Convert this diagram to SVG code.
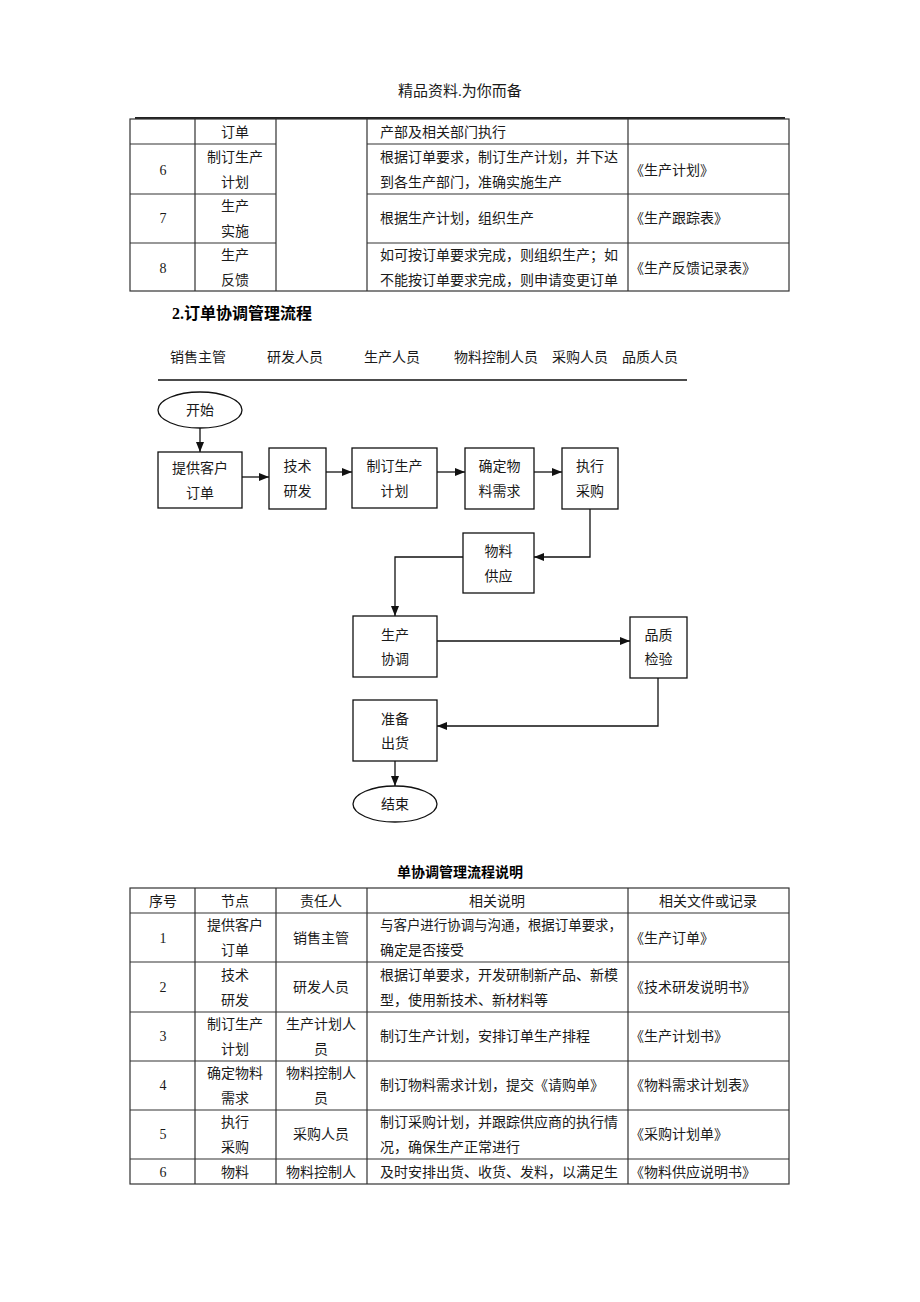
<svg xmlns="http://www.w3.org/2000/svg" width="920" height="1302" viewBox="0 0 920 1302">
<style>
text{font-family:"Liberation Serif","Noto Sans CJK SC",serif;font-size:14px;fill:#1a1a1a;dominant-baseline:central}
.c{text-anchor:middle}
.b{font-weight:bold;fill:#000}
.g{stroke:#333;stroke-width:1.2;fill:none}
.box{fill:#fff;stroke:#111;stroke-width:1.3}
.con{fill:none;stroke:#111;stroke-width:1.3;marker-end:url(#arr)}
</style>
<defs>
<marker id="arr" viewBox="0 0 10 10" refX="10" refY="5" markerWidth="10" markerHeight="10" markerUnits="userSpaceOnUse" orient="auto"><path d="M0,1 L10,5 L0,9 z" fill="#111"/></marker>
</defs>
<rect width="920" height="1302" fill="#fff"/>
<text class="c" x="460" y="91" style="font-size:15px">精品资料.为你而备</text>
<line x1="135" y1="118" x2="785" y2="118" stroke="#222" stroke-width="1.8"/>
<g id="table-top">
<rect class="g" x="130" y="119" width="659" height="172"/>
<path class="g" d="M195,119V291M276,119V291M367,119V291M628,119V291M130,144H276M367,144H789M130,194H276M367,194H789M130,243H276M367,243H789"/>
<text class="c" x="235" y="132">订单</text>
<text x="380" y="132">产部及相关部门执行</text>
<text class="c" x="163" y="170">6</text>
<text class="c" x="235" y="157">制订生产</text>
<text class="c" x="235" y="182">计划</text>
<text x="380" y="157">根据订单要求，制订生产计划，并下达</text>
<text x="380" y="182">到各生产部门，准确实施生产</text>
<text x="630" y="170">《生产计划》</text>
<text class="c" x="163" y="218">7</text>
<text class="c" x="235" y="206">生产</text>
<text class="c" x="235" y="231">实施</text>
<text x="380" y="218">根据生产计划，组织生产</text>
<text x="630" y="218">《生产跟踪表》</text>
<text class="c" x="163" y="268">8</text>
<text class="c" x="235" y="255">生产</text>
<text class="c" x="235" y="280">反馈</text>
<text x="380" y="255">如可按订单要求完成，则组织生产；如</text>
<text x="380" y="280">不能按订单要求完成，则申请变更订单</text>
<text x="630" y="268">《生产反馈记录表》</text>
</g>
<text class="b" x="172" y="313" style="font-size:16px">2.订单协调管理流程</text>
<g id="lanes">
<text x="170" y="357">销售主管</text>
<text x="267" y="357">研发人员</text>
<text x="364" y="357">生产人员</text>
<text x="454" y="357">物料控制人员</text>
<text x="552" y="357">采购人员</text>
<text x="622" y="357">品质人员</text>
<line x1="158" y1="380" x2="687" y2="380" stroke="#111" stroke-width="1.3"/>
</g>
<g id="connectors">
<path class="con" d="M200,428V452"/>
<path class="con" d="M242,477H269"/>
<path class="con" d="M326,472H352"/>
<path class="con" d="M437,472H465"/>
<path class="con" d="M534,472H562"/>
<path class="con" d="M590,509V557H534"/>
<path class="con" d="M463,557H395V616"/>
<path class="con" d="M437,641H630"/>
<path class="con" d="M658,678V726H437"/>
<path class="con" d="M395,761V786"/>
</g>
<g id="start"><ellipse class="box" cx="200" cy="410" rx="42" ry="18"/><text class="c" x="200" y="410">开始</text></g>
<g id="n1"><rect class="box" x="158" y="452" width="84" height="56"/><text class="c" x="200" y="468">提供客户</text><text class="c" x="200" y="493">订单</text></g>
<g id="n2"><rect class="box" x="269" y="448" width="57" height="61"/><text class="c" x="297.5" y="466">技术</text><text class="c" x="297.5" y="491">研发</text></g>
<g id="n3"><rect class="box" x="352" y="448" width="85" height="60"/><text class="c" x="394.5" y="466">制订生产</text><text class="c" x="394.5" y="491">计划</text></g>
<g id="n4"><rect class="box" x="465" y="448" width="69" height="61"/><text class="c" x="499.5" y="466">确定物</text><text class="c" x="499.5" y="491">料需求</text></g>
<g id="n5"><rect class="box" x="562" y="448" width="56" height="61"/><text class="c" x="590" y="466">执行</text><text class="c" x="590" y="491">采购</text></g>
<g id="n6"><rect class="box" x="463" y="533" width="71" height="60"/><text class="c" x="498.5" y="551">物料</text><text class="c" x="498.5" y="576">供应</text></g>
<g id="n7"><rect class="box" x="353" y="616" width="84" height="61"/><text class="c" x="395" y="635">生产</text><text class="c" x="395" y="659">协调</text></g>
<g id="n8"><rect class="box" x="630" y="617" width="57" height="61"/><text class="c" x="658.5" y="635">品质</text><text class="c" x="658.5" y="659">检验</text></g>
<g id="n9"><rect class="box" x="353" y="700" width="84" height="61"/><text class="c" x="395" y="719">准备</text><text class="c" x="395" y="743">出货</text></g>
<g id="end"><ellipse class="box" cx="395" cy="804" rx="42" ry="18"/><text class="c" x="395" y="804">结束</text></g>
<text class="c b" x="460" y="872">单协调管理流程说明</text>
<g id="table-bottom">
<rect class="g" x="130" y="888" width="659" height="296"/>
<path class="g" d="M195,888V1184M276,888V1184M367,888V1184M628,888V1184M130,913H789M130,962H789M130,1012H789M130,1061H789M130,1110H789M130,1159H789"/>
<text class="c" x="163" y="901">序号</text>
<text class="c" x="235" y="901">节点</text>
<text class="c" x="321" y="901">责任人</text>
<text class="c" x="497" y="901">相关说明</text>
<text class="c" x="708" y="901">相关文件或记录</text>
<text class="c" x="163" y="938">1</text>
<text class="c" x="235" y="925">提供客户</text>
<text class="c" x="235" y="950">订单</text>
<text class="c" x="321" y="938">销售主管</text>
<text x="380" y="925" textLength="242" lengthAdjust="spacingAndGlyphs">与客户进行协调与沟通，根据订单要求，</text>
<text x="380" y="950">确定是否接受</text>
<text x="630" y="938">《生产订单》</text>
<text class="c" x="163" y="987">2</text>
<text class="c" x="235" y="975">技术</text>
<text class="c" x="235" y="1000">研发</text>
<text class="c" x="321" y="987">研发人员</text>
<text x="380" y="975">根据订单要求，开发研制新产品、新模</text>
<text x="380" y="1000">型，使用新技术、新材料等</text>
<text x="630" y="987">《技术研发说明书》</text>
<text class="c" x="163" y="1036">3</text>
<text class="c" x="235" y="1024">制订生产</text>
<text class="c" x="235" y="1049">计划</text>
<text class="c" x="321" y="1024">生产计划人</text>
<text class="c" x="321" y="1049">员</text>
<text x="380" y="1036">制订生产计划，安排订单生产排程</text>
<text x="630" y="1036">《生产计划书》</text>
<text class="c" x="163" y="1085">4</text>
<text class="c" x="235" y="1073">确定物料</text>
<text class="c" x="235" y="1098">需求</text>
<text class="c" x="321" y="1073">物料控制人</text>
<text class="c" x="321" y="1098">员</text>
<text x="380" y="1085">制订物料需求计划，提交《请购单》</text>
<text x="630" y="1085">《物料需求计划表》</text>
<text class="c" x="163" y="1134">5</text>
<text class="c" x="235" y="1122">执行</text>
<text class="c" x="235" y="1147">采购</text>
<text class="c" x="321" y="1134">采购人员</text>
<text x="380" y="1122">制订采购计划，并跟踪供应商的执行情</text>
<text x="380" y="1147">况，确保生产正常进行</text>
<text x="630" y="1134">《采购计划单》</text>
<text class="c" x="163" y="1172">6</text>
<text class="c" x="235" y="1172">物料</text>
<text class="c" x="321" y="1172">物料控制人</text>
<text x="380" y="1172">及时安排出货、收货、发料，以满足生</text>
<text x="630" y="1172">《物料供应说明书》</text>
</g>
</svg>
